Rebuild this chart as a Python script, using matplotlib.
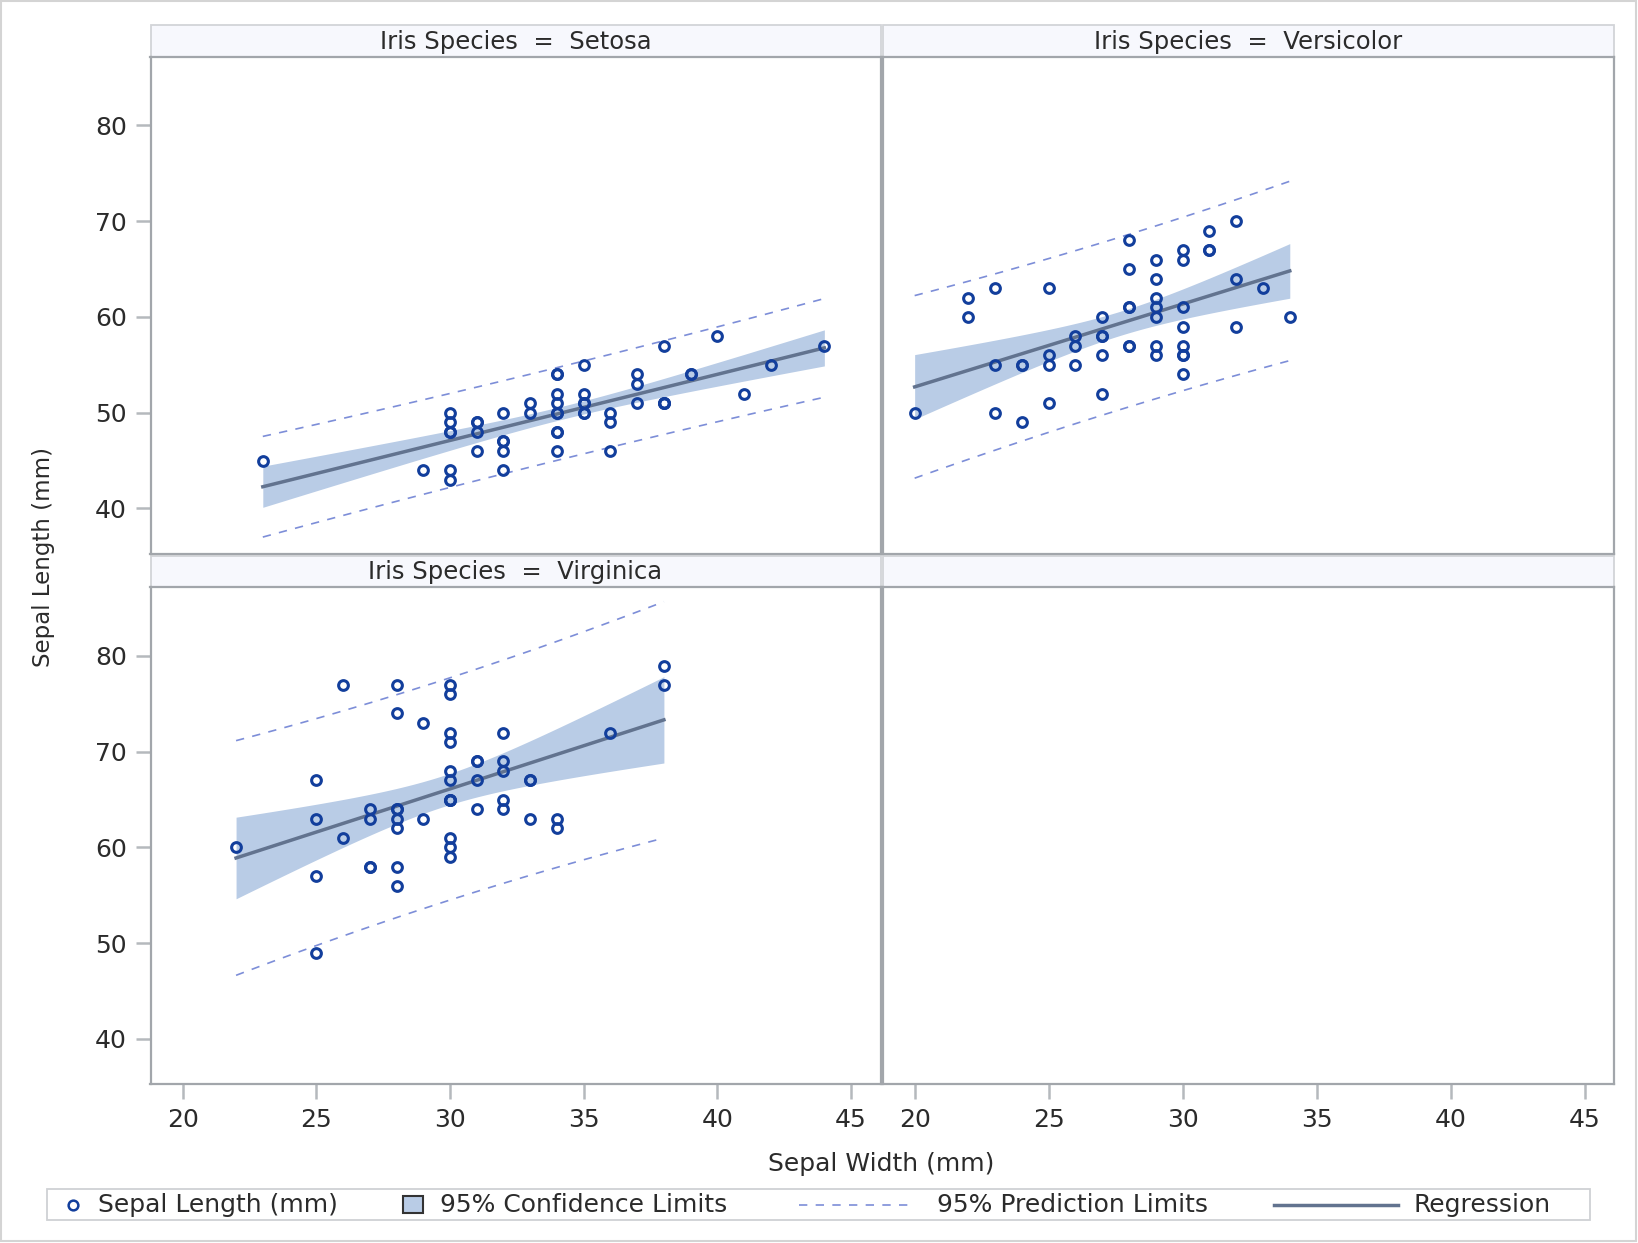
import matplotlib
matplotlib.use('Agg')
import matplotlib.pyplot as plt
from matplotlib.patches import Rectangle
from matplotlib.lines import Line2D
import numpy as np

# Fisher iris data (mm): sepal width / sepal length per species
species = ['Setosa', 'Versicolor', 'Virginica']
setosa_width = [35, 30, 32, 31, 36, 39, 34, 34, 29, 31, 37, 34, 30, 30, 40, 44, 39, 35, 38, 38,
                34, 37, 36, 33, 34, 30, 34, 35, 34, 32, 31, 34, 41, 42, 31, 32, 35, 36, 30, 34,
                35, 23, 32, 35, 38, 30, 38, 32, 37, 33]
setosa_length = [51, 49, 47, 46, 50, 54, 46, 50, 44, 49, 54, 48, 48, 43, 58, 57, 54, 51, 57, 51,
                 54, 51, 46, 51, 48, 50, 50, 52, 52, 47, 48, 54, 52, 55, 49, 50, 55, 49, 44, 51,
                 50, 45, 44, 50, 51, 48, 51, 46, 53, 50]
versicolor_width = [32, 32, 31, 23, 28, 28, 33, 24, 29, 27, 20, 30, 22, 29, 29, 31, 30, 27, 22, 25,
                    32, 28, 25, 28, 29, 30, 28, 30, 29, 26, 24, 24, 27, 27, 30, 34, 31, 23, 30, 25,
                    26, 30, 26, 23, 27, 30, 29, 29, 25, 28]
versicolor_length = [70, 64, 69, 55, 65, 57, 63, 49, 66, 52, 50, 59, 60, 61, 56, 67, 56, 58, 62, 56,
                     59, 61, 63, 61, 64, 66, 68, 67, 60, 57, 55, 55, 58, 60, 54, 60, 67, 63, 56, 55,
                     55, 61, 58, 50, 56, 57, 57, 62, 51, 57]
virginica_width = [33, 27, 30, 29, 30, 30, 25, 29, 25, 36, 32, 27, 30, 25, 28, 32, 30, 38, 26, 22,
                   32, 28, 28, 27, 33, 32, 28, 30, 28, 30, 28, 38, 28, 28, 26, 30, 34, 31, 30, 31,
                   31, 31, 27, 32, 33, 30, 25, 30, 34, 30]
virginica_length = [63, 58, 71, 63, 65, 76, 49, 73, 67, 72, 65, 64, 68, 57, 58, 64, 65, 77, 77, 60,
                    69, 56, 77, 63, 67, 72, 62, 61, 64, 72, 74, 79, 64, 63, 61, 77, 63, 64, 60, 69,
                    67, 69, 58, 68, 67, 67, 63, 65, 62, 59]
widths = [setosa_width, versicolor_width, virginica_width]
lengths = [setosa_length, versicolor_length, virginica_length]
x_ticks = [20, 25, 30, 35, 40, 45]
y_ticks = [40, 50, 60, 70, 80]

T_975 = 2.0106  # t quantile, 48 df

MARK = '#123e9c'
BAND = '#b9cce6'
REG = '#62738f'
PRED = '#7d8ed8'
FRAME = '#a2a6ab'
TXT = '#2b2b2b'

W, H = 1638, 1243
fig = plt.figure(figsize=(W / 100, H / 100), dpi=100)
fig.patch.set_facecolor('white')

def px_rect(x0, y0, x1, y1):
    return [x0 / W, 1 - y1 / H, (x1 - x0) / W, (y1 - y0) / H]

cols = [(150.5, 880.5), (882.5, 1614)]
rows = [((25, 56.5), (56.5, 553.5)), ((555.5, 587), (587, 1084))]

# overlay in pixel coords for strips, legend, outer frame
ov = fig.add_axes([0, 0, 1, 1], zorder=0)
ov.set_xlim(0, W); ov.set_ylim(H, 0)
ov.axis('off')
ov.add_patch(Rectangle((1, 1), W - 3, H - 3, facecolor='none', edgecolor='#d4d4d4', lw=1.5))

panels = [(0, 0), (0, 1), (1, 0), (1, 1)]
for k, (r, c) in enumerate(panels):
    (hy0, hy1), (py0, py1) = rows[r]
    x0, x1 = cols[c]
    ov.add_patch(Rectangle((x0, hy0), x1 - x0, hy1 - hy0, facecolor='#f7f8fd',
                           edgecolor='#d2d4d8', lw=1.3))
    if k < 3:
        ov.text((x0 + x1) / 2, (hy0 + hy1) / 2 + 1, f'Iris Species  =  {species[k]}',
                ha='center', va='center', fontsize=17.5, color=TXT)

    ax = fig.add_axes(px_rect(x0, py0, x1, py1), zorder=1)
    ax.set_xlim(18.8, 46.1)
    ax.set_ylim(35.3, 87.2)
    for s in ax.spines.values():
        s.set_color(FRAME); s.set_linewidth(1.6)
    ax.set_xticks(x_ticks); ax.set_yticks(y_ticks)
    ax.tick_params(colors='#b5b9bd', labelcolor=TXT, labelsize=18, length=11, width=1.8, pad=6)
    if c == 1:
        ax.tick_params(axis='y', left=False, labelleft=False)
    if r == 0:
        ax.tick_params(axis='x', bottom=False, labelbottom=False)
    if k == 3:
        continue

    x = np.array(widths[k], float)
    y = np.array(lengths[k], float)
    n = len(x)
    b1, b0 = np.polyfit(x, y, 1)
    resid = y - (b0 + b1 * x)
    s = np.sqrt(np.sum(resid ** 2) / (n - 2))
    sxx = np.sum((x - x.mean()) ** 2)
    xs = np.linspace(x.min(), x.max(), 100)
    fit = b0 + b1 * xs
    se_m = s * np.sqrt(1 / n + (xs - x.mean()) ** 2 / sxx)
    se_p = s * np.sqrt(1 + 1 / n + (xs - x.mean()) ** 2 / sxx)

    ax.fill_between(xs, fit - T_975 * se_m, fit + T_975 * se_m, color=BAND, lw=0, zorder=1)
    ax.plot(xs, fit - T_975 * se_p, ls=(0, (5, 5)), color=PRED, lw=1.2, zorder=2)
    ax.plot(xs, fit + T_975 * se_p, ls=(0, (5, 5)), color=PRED, lw=1.2, zorder=2)
    ax.plot(xs, fit, color=REG, lw=2.5, zorder=3)
    ax.plot(x, y, 'o', mfc='none', mec=MARK, ms=7, mew=2.2, zorder=4)

# axis titles
ov.text(881, 1164, 'Sepal Width (mm)', ha='center', va='center', fontsize=18, color=TXT)
ov.text(44, 557, 'Sepal Length (mm)', ha='center', va='center', rotation=90,
        fontsize=16.5, color=TXT)

# legend row
ly = 1205
ov.add_patch(Rectangle((47, 1189), 1543, 31, facecolor='white', edgecolor='#cfd1d4', lw=1.3))
ov.add_line(Line2D([73], [ly], marker='o', mfc='none', mec=MARK, ms=7, mew=1.8))
ov.text(98, ly, 'Sepal Length (mm)', va='center', fontsize=18, color=TXT)
ov.add_patch(Rectangle((403, 1196), 20, 17, facecolor=BAND, edgecolor='#333333', lw=1.5))
ov.text(440, ly, '95% Confidence Limits', va='center', fontsize=18, color=TXT)
ov.add_line(Line2D([799, 912], [ly, ly], ls=(0, (5, 5)), color=PRED, lw=1.2))
ov.text(937, ly, '95% Prediction Limits', va='center', fontsize=18, color=TXT)
ov.add_line(Line2D([1274, 1398], [ly, ly], color=REG, lw=2.5))
ov.text(1414, ly, 'Regression', va='center', fontsize=18, color=TXT)

plt.savefig('out.png', dpi=100, facecolor='white')
plt.close()
